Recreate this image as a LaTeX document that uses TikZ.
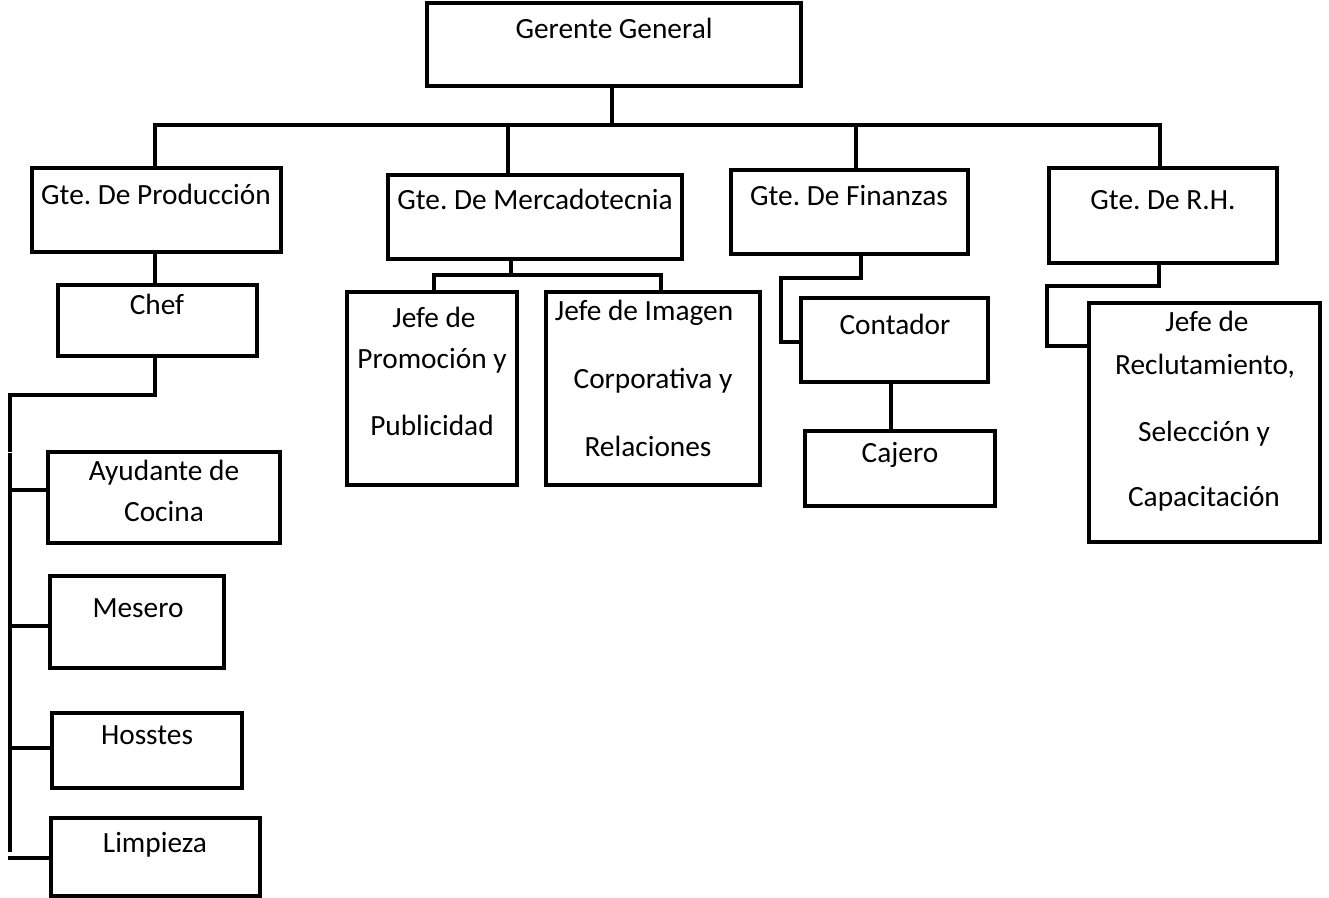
\documentclass[tikz,border=0pt]{standalone}
\usepackage{fontspec}
\setmainfont{Carlito}
\usetikzlibrary{fit}
\frenchspacing
\begin{document}
\begin{tikzpicture}[x=0.75pt,y=-0.75pt,
  box/.style={draw,line width=2.4pt,inner sep=0pt,fit={#1}},
  txt/.style={anchor=base,inner sep=0pt,font=\fontsize{22}{26}\selectfont},
  link/.style={line width=2.4pt,line cap=rect}]
\useasboundingbox (0,0) rectangle (1329,898);
% boxes
\node[box={(427,3) (801,86)}] (gg) {};
\node[box={(32,168) (281,252)}] (prod) {};
\node[box={(388,175) (682,259)}] (merc) {};
\node[box={(731,170) (968,254)}] (fin) {};
\node[box={(1049,168) (1277,263)}] (rh) {};
\node[box={(58,285) (257,356)}] (chef) {};
\node[box={(48,452) (280,543)}] (ayud) {};
\node[box={(50,576) (224,668)}] (mes) {};
\node[box={(52,713) (242,788)}] (hos) {};
\node[box={(51,818) (260,896)}] (lim) {};
\node[box={(347,292) (517,485)}] (prom) {};
\node[box={(546,292) (760,485)}] (imag) {};
\node[box={(801,298) (988,382)}] (cont) {};
\node[box={(805,431) (995,506)}] (caj) {};
\node[box={(1089,303) (1320,542)}] (recl) {};
% texts
\node[txt] (t1) at (614,39) {Gerente General};
\node[txt] (t2) at (156,205) {Gte. De Producción};
\node[txt] (t3) at (535,210) {Gte. De Mercadotecnia};
\node[txt] (t4) at (849,206) {Gte. De Finanzas};
\node[txt] (t5) at (1163,210) {Gte. De R.H.};
\node[txt] (t6) at (157,315) {Chef};
\node[txt] (t7a) at (164,481) {Ayudante de};
\node[txt] (t7b) at (164,522) {Cocina};
\node[txt] (t8) at (138,617) {Mesero};
\node[txt] (t9) at (147,744) {Hosstes};
\node[txt] (t10) at (155,852) {Limpieza};
\node[txt] (t11a) at (434,328) {Jefe de};
\node[txt] (t11b) at (432,369) {Promoción y};
\node[txt] (t11c) at (432,436) {Publicidad};
\node[txt] (t12a) at (644,321) {Jefe de Imagen};
\node[txt] (t12b) at (653,389) {Corporativa y};
\node[txt] (t12c) at (648,457) {Relaciones};
\node[txt] (t13) at (895,335) {Contador};
\node[txt] (t14) at (900,463) {Cajero};
\node[txt] (t15a) at (1207,332) {Jefe de};
\node[txt] (t15b) at (1205,375) {Reclutamiento,};
\node[txt] (t15c) at (1204,442) {Selección y};
\node[txt] (t15d) at (1204,507) {Capacitación};
% junctions
\coordinate (g1) at (612,125);
\coordinate (bL) at (155,125);
\coordinate (bM) at (508,125);
\coordinate (bF) at (856,125);
\coordinate (bR) at (1160,125);
\coordinate (c1) at (155,395);
\coordinate (c2) at (10,395);
\coordinate (c3) at (10,450);
\coordinate (c4) at (10,455);
\coordinate (c5) at (10,850);
\coordinate (ra) at (10,490);
\coordinate (rb) at (10,626);
\coordinate (rc) at (10,748);
\coordinate (rd) at (10,858);
\coordinate (m1) at (511,275);
\coordinate (m2) at (434,275);
\coordinate (m3) at (661,275);
\coordinate (f1) at (861,278);
\coordinate (f2) at (781,278);
\coordinate (f3) at (781,342);
\coordinate (h1) at (1159,286);
\coordinate (h2) at (1047,286);
\coordinate (h3) at (1047,346);
\coordinate (k1) at (891,0);
% connectors
\draw[link] (gg.south -| g1) -- (g1);
\draw[link] (bL) -- (bR);
\draw[link] (bL) -- (bL |- prod.north);
\draw[link] (bM) -- (bM |- merc.north);
\draw[link] (bF) -- (bF |- fin.north);
\draw[link] (bR) -- (bR |- rh.north);
\draw[link] (prod.south -| bL) -- (chef.north -| bL);
\draw[link] (chef.south -| c1) -- (c1) -- (c2) -- (c3);
\draw[link] (c4) -- (c5);
\draw[link] (ra) -- (ra -| ayud.west);
\draw[link] (rb) -- (rb -| mes.west);
\draw[link] (rc) -- (rc -| hos.west);
\draw[link] (rd) -- (rd -| lim.west);
\draw[link] (merc.south -| m1) -- (m1);
\draw[link] (m2) -- (m3);
\draw[link] (m2) -- (m2 |- prom.north);
\draw[link] (m3) -- (m3 |- imag.north);
\draw[link] (fin.south -| f1) -- (f1) -- (f2) -- (f3) -- (f3 -| cont.west);
\draw[link] (cont.south -| k1) -- (caj.north -| k1);
\draw[link] (rh.south -| h1) -- (h1) -- (h2) -- (h3) -- (h3 -| recl.west);
\end{tikzpicture}
\end{document}
